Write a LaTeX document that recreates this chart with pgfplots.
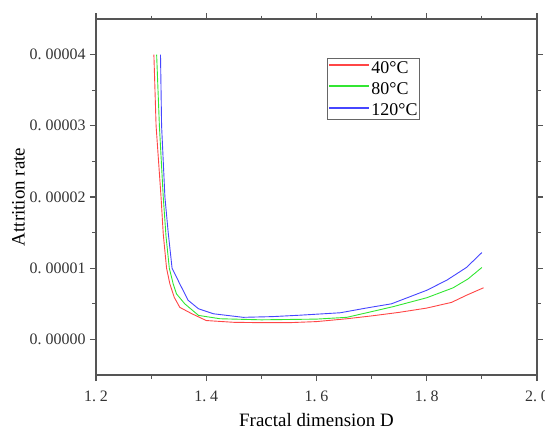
\documentclass[border=0pt]{standalone}
\usepackage{fontspec}
\setmainfont{Liberation Serif}
\usepackage{pgfplots}
\pgfplotsset{compat=1.18}
\definecolor{axgray}{RGB}{85,85,85}
\definecolor{cred}{RGB}{255,70,70}
\definecolor{cgreen}{RGB}{50,230,50}
\definecolor{cblue}{RGB}{70,70,255}
\begin{document}
\begin{tikzpicture}
\begin{axis}[
  scale only axis,
  width=441bp, height=356bp,
  xmin=1.2, xmax=2.0,
  ymin=-0.000005, ymax=0.000045,
  axis line style={axgray, line width=1.3bp},
  every tick/.style={axgray, line width=1.1bp},
  tick align=outside,
  major tick length=6bp,
  minor tick length=3.5bp,
  xtick={1.2,1.4,1.6,1.8,2.0},
  xticklabels={1.\ 2,1.\ 4,1.\ 6,1.\ 8,2.\ 0},
  minor x tick num=1,
  ytick={0,0.00001,0.00002,0.00003,0.00004},
  yticklabels={0.\ 00000,0.\ 00001,0.\ 00002,0.\ 00003,0.\ 00004},
  minor y tick num=1,
  scaled y ticks=false,
  scaled x ticks=false,
  tick label style={font=\fontsize{16}{18}\selectfont, text=black!80},
  xticklabel style={yshift=-6bp},
  yticklabel style={xshift=-1bp},
  xlabel={Fractal dimension D},
  ylabel={Attrition rate},
  label style={font=\fontsize{19}{22}\selectfont},
  xlabel style={yshift=-5bp},
  ylabel style={yshift=-2bp},
  legend style={at={(0.523,0.89)}, anchor=north west,
    font=\fontsize{18}{20}\selectfont, inner sep=1bp, row sep=5bp,
    nodes={inner sep=1.5bp}},
  every axis legend/.append style={draw=gray!80!black, line width=1bp},
  legend cell align=left,
  legend image code/.code={\draw[#1, line width=1.8bp] (0bp,0.3em) -- (40bp,0.3em);},
]
\addplot[draw=cred, line width=0.9bp] coordinates {
(1.305,4.0e-5) (1.309,3.0e-5) (1.318,2.0e-5) (1.322,1.48e-5) (1.328,1.0e-5)
(1.334,7.8e-6) (1.342,5.9e-6) (1.352,4.5e-6) (1.374,3.6e-6) (1.40,2.65e-6)
(1.45,2.4e-6) (1.50,2.35e-6) (1.55,2.35e-6) (1.60,2.5e-6) (1.655,2.9e-6)
(1.70,3.3e-6) (1.75,3.8e-6) (1.80,4.4e-6) (1.845,5.2e-6) (1.872,6.2e-6)
(1.903,7.25e-6)};
\addlegendentry{40°C}
\addplot[draw=cgreen, line width=0.9bp] coordinates {
(1.310,4.0e-5) (1.315,3.0e-5) (1.322,2.0e-5) (1.327,1.45e-5) (1.333,1.0e-5)
(1.340,7.8e-6) (1.346,6.4e-6) (1.361,5.0e-6) (1.386,3.37e-6) (1.425,2.9e-6)
(1.50,2.75e-6) (1.55,2.8e-6) (1.60,2.85e-6) (1.655,3.1e-6) (1.70,3.9e-6)
(1.739,4.6e-6) (1.80,5.85e-6) (1.848,7.25e-6) (1.875,8.5e-6) (1.90,1.01e-5)};
\addlegendentry{80°C}
\addplot[draw=cblue, line width=0.9bp] coordinates {
(1.317,4.0e-5) (1.319,3.0e-5) (1.325,2.0e-5) (1.331,1.5e-5) (1.338,1.0e-5)
(1.352,7.8e-6) (1.367,5.5e-6) (1.386,4.3e-6) (1.413,3.6e-6) (1.467,3.1e-6)
(1.52,3.2e-6) (1.57,3.4e-6) (1.643,3.74e-6) (1.69,4.4e-6) (1.736,5.0e-6)
(1.80,6.9e-6) (1.836,8.3e-6) (1.872,1.01e-5) (1.90,1.22e-5)};
\addlegendentry{120°C}
\end{axis}
\pgfresetboundingbox
\path (current axis.south west) ++(-96bp,-54bp) rectangle ++(545bp,429bp);
\end{tikzpicture}
\end{document}
